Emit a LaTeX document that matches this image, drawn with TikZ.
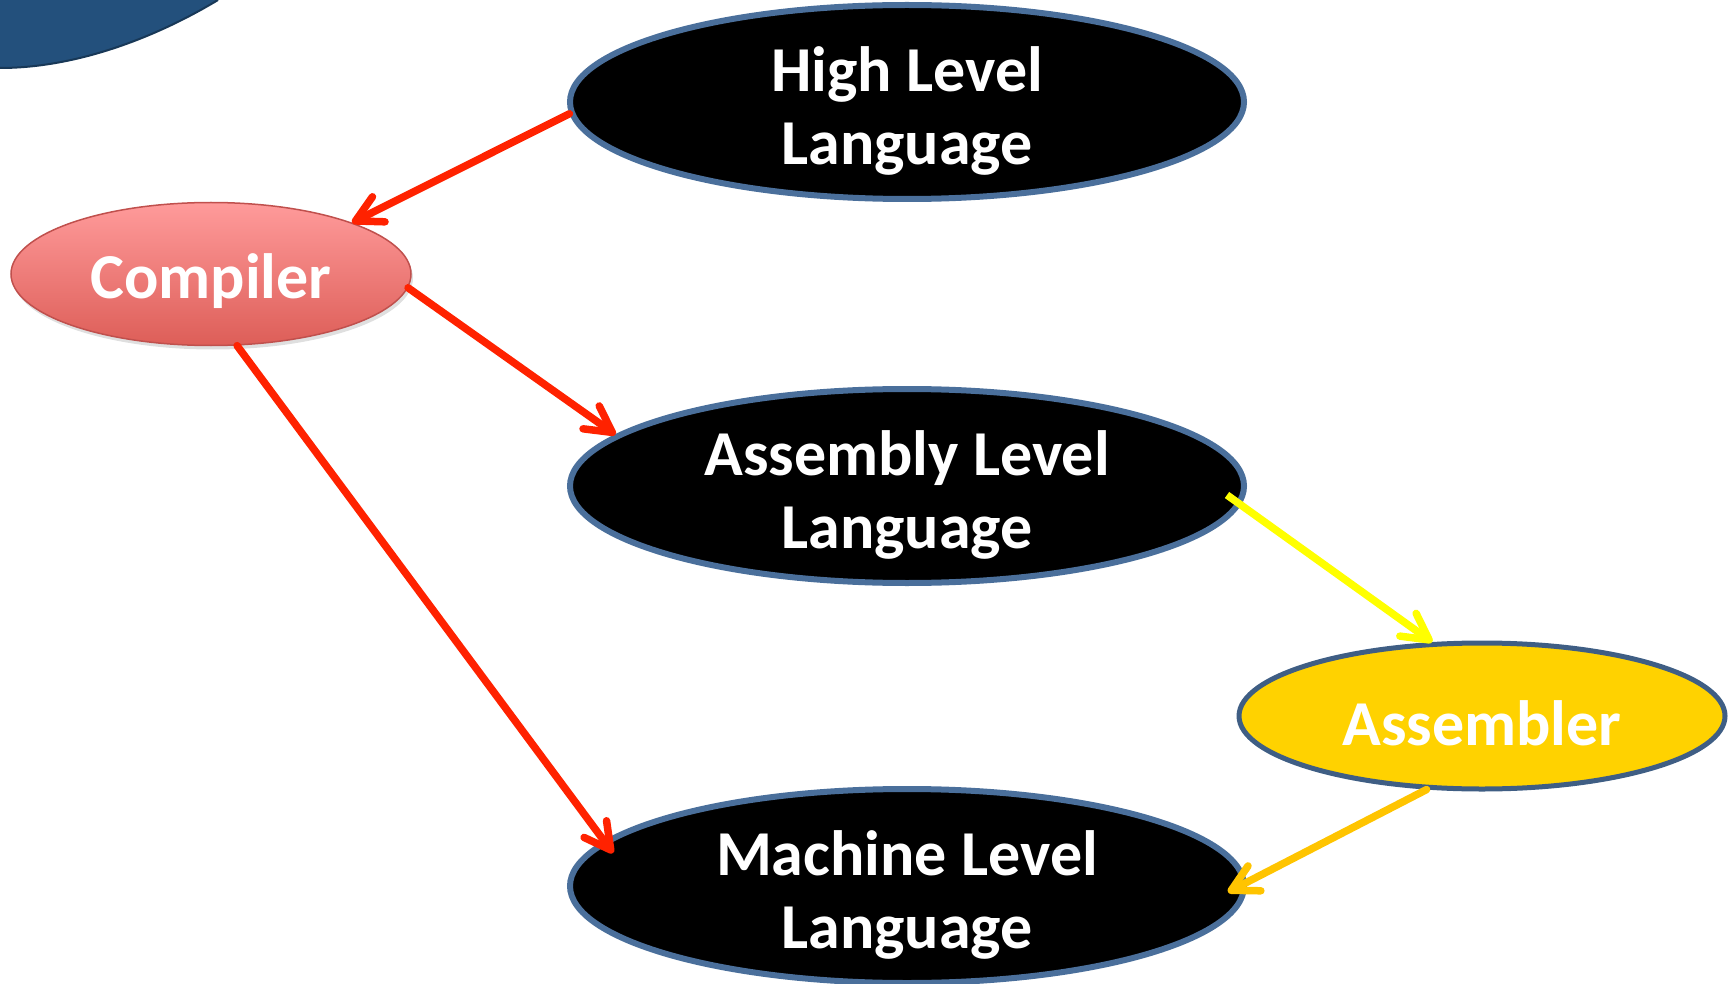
\documentclass[tikz,border=0pt]{standalone}
\usepackage{fontspec}
\setmainfont{Carlito}
\usetikzlibrary{arrows.meta,shapes.geometric,shadows}
\definecolor{bordblue}{HTML}{4A6F9B}
\definecolor{cornerblue}{HTML}{23507C}
\definecolor{arrred}{HTML}{FF2200}
\definecolor{arryel}{HTML}{FFFF00}
\definecolor{arrgold}{HTML}{FFC400}
\definecolor{asmfill}{HTML}{FFD200}
\newcommand{\twolines}[2]{\raisebox{0pt}[\dimexpr\height+22pt\relax][\depth]{\begin{tabular}{@{}c@{}}#1\\#2\end{tabular}}}
\newcommand{\oneline}[1]{\raisebox{0pt}[\dimexpr\height+14pt\relax][\depth]{#1}}
\tikzset{
  lang/.style={ellipse, fill=black, draw=bordblue, line width=6pt,
    minimum width=674pt, minimum height=194pt, inner sep=0pt, inner ysep=-30pt,
    text=white, font=\bfseries\fontsize{64}{73}\selectfont},
  tool/.style={ellipse, inner sep=0pt, text=white,
    font=\bfseries\fontsize{64}{73}\selectfont},
  conn/.style={line width=7.5pt, line cap=round,
    -{Straight Barb[length=26pt, width=28pt, round]}},
}
\begin{document}
\begin{tikzpicture}[x=1pt,y=-1pt]
\useasboundingbox (0,0) rectangle (1732,984);
% corner shape
\begin{scope}
\clip (0,0) rectangle (1732,984);
\fill[cornerblue] (0,-5) -- (0,68) .. controls (80,68) and (160,35) .. (218,0) -- (218,-5) -- cycle;
\draw[cornerblue!70!black, line width=2pt] (0,68) .. controls (80,68) and (160,35) .. (218,0);
\end{scope}
% nodes
\node[lang] (hl) at (907,102) {\twolines{High Level}{Language}};
\node[lang] (asml) at (907,486) {\twolines{Assembly Level}{Language}};
\node[lang] (ml) at (907,886) {\twolines{Machine Level}{Language}};
\node[tool, minimum width=400pt, minimum height=143pt,
  top color=red!25!pink!90!white, bottom color={rgb,255:red,221;green,94;blue,88},
  draw={rgb,255:red,192;green,80;blue,77}, line width=1.5pt,
  drop shadow={opacity=0.25, shadow xshift=2pt, shadow yshift=-4pt}]
  (comp) at (211,274) {\oneline{Compiler}};
\node[tool, minimum width=486pt, minimum height=146pt, fill=asmfill,
  draw=bordblue!85!black, line width=5pt] (asm) at (1482,716) {\oneline{Assembler}};
% connectors
\draw[conn, arrred] (hl.182) -- (comp.20);
\draw[conn, arrred] (comp.-4) -- (asml.170);
\draw[conn, arrred] (comp.-70) -- ([shift={(-294,-33)}]ml.center);
\draw[conn, arryel, line cap=butt] ([shift={(320,9)}]asml.center) -- (asm.124);
\draw[conn, arrgold] (asm.-127) -- ([shift={(321,6)}]ml.center);
\end{tikzpicture}
\end{document}
